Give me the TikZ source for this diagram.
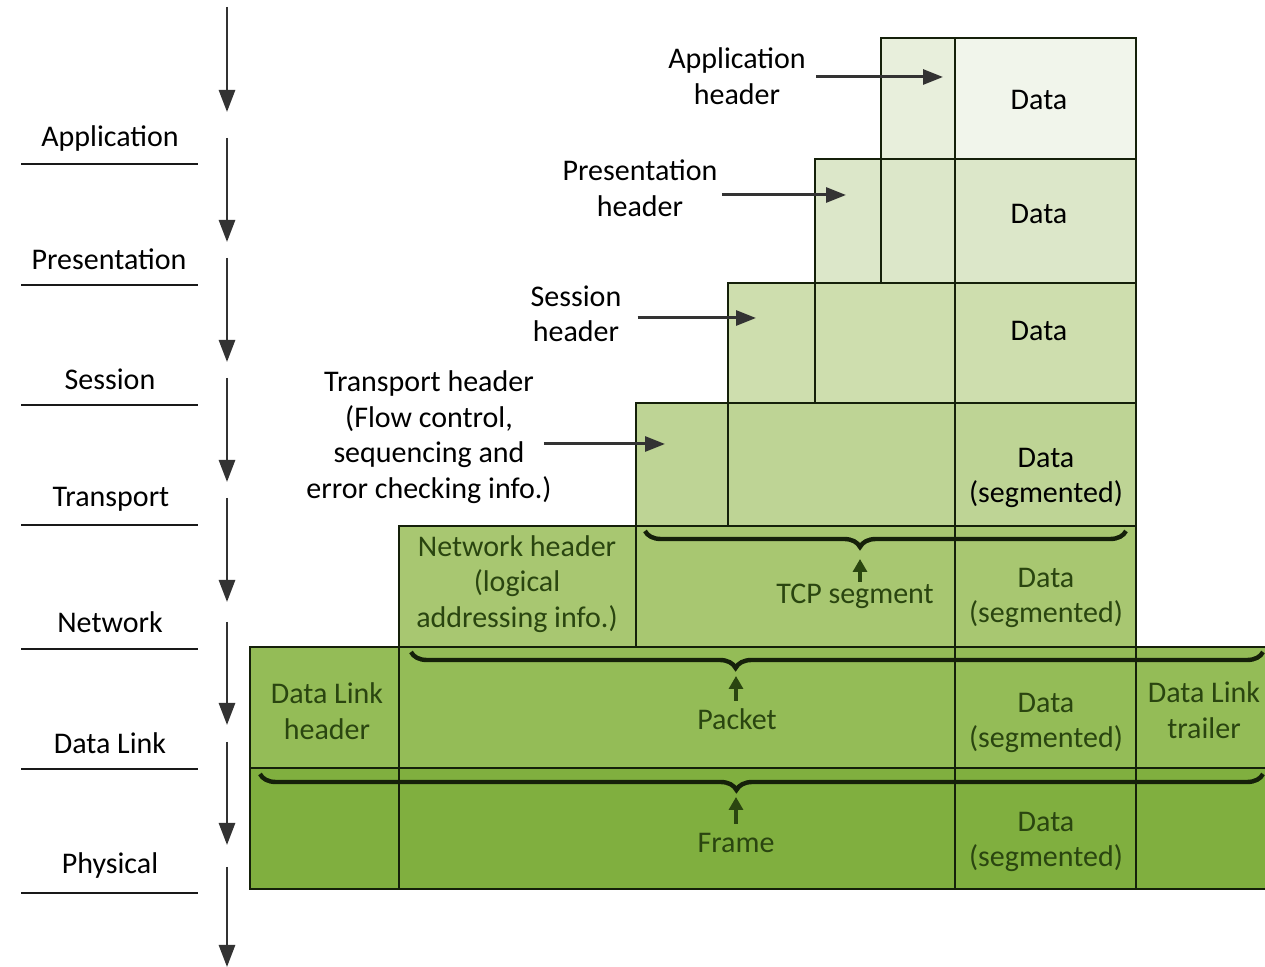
\documentclass[tikz,border=0pt]{standalone}
\usepackage{fontspec}
\setmainfont{Carlito}
\usetikzlibrary{arrows.meta,decorations.pathreplacing}
\definecolor{appH}{HTML}{E8EFDC}
\definecolor{appD}{HTML}{F1F5EB}
\definecolor{presC}{HTML}{DCE7C9}
\definecolor{sessC}{HTML}{CEDEAE}
\definecolor{transC}{HTML}{BED495}
\definecolor{netC}{HTML}{A8C771}
\definecolor{dlC}{HTML}{94BC57}
\definecolor{physC}{HTML}{80AF3F}
\definecolor{txtgreen}{HTML}{2A4510}
\definecolor{edge}{HTML}{15200A}
\definecolor{arrowgray}{HTML}{333333}
\newcommand{\mkcell}[6]{\node[cellbox, fill=#6, minimum width={(#4-#2)*0.5pt}, minimum height={(#5-#3)*0.5pt}, anchor=north west] (#1) at (#2,#3) {};}
\begin{document}
\begin{tikzpicture}[x=0.5pt,y=-0.5pt,
  font=\fontsize{15}{17.75}\selectfont,
  cellbox/.style={draw=edge, line width=1.4pt, inner sep=0pt, outer sep=0pt},
  lbl/.style={align=center, inner sep=0pt},
  grntxt/.style={lbl, text=txtgreen},
  layerline/.style={line width=1.4pt, draw=black!90},
  downarrow/.style={line width=1.4pt, draw=arrowgray, -{Triangle[length=11pt,width=8pt]}},
  harrow/.style={line width=1.5pt, draw=arrowgray, -{Triangle[length=10pt,width=7.5pt]}},
  uparrow/.style={line width=1.6pt, draw=txtgreen, -{Triangle[length=6.5pt,width=7pt]}},
  bracestyle/.style={draw=edge, line width=2.2pt, decorate, decoration={brace, mirror, amplitude=8pt, aspect=#1}}]
\useasboundingbox (0,0) rectangle (1265,967);
\clip (0,0) rectangle (1265,967);
\fill[white] (0,0) rectangle (1265,967);

% ---- left column: layers ----
\foreach \nm/\yy in {a1/7,a2/138,a3/258,a4/378,a5/498,a6/622,a7/742,a8/867}{
  \coordinate (\nm s) at (227,\yy);}
\foreach \nm/\yy in {a1/112,a2/242,a3/362,a4/482,a5/602,a6/725,a7/845,a8/967}{
  \coordinate (\nm e) at (227,\yy);}
\foreach \nm in {a1,a2,a3,a4,a5,a6,a7,a8}{\draw[downarrow] (\nm s) -- (\nm e);}

\node[lbl] (lApp) at (110,139) {Application};
\node[lbl] (lPres) at (109,259) {Presentation};
\node[lbl] (lSess) at (110,379) {Session};
\node[lbl] (lTrans) at (111,499) {Transport};
\node[lbl] (lNet) at (110,622) {Network};
\node[lbl] (lDL) at (110,743) {Data Link};
\node[lbl] (lPhys) at (110,866) {Physical};
\foreach \yy in {164,285,405,525,649,769,893}{\draw[layerline] (21,\yy) -- (198,\yy);}

% ---- stacked rows ----
\mkcell{appHc}{881}{38}{955}{159}{appH}
\mkcell{appDc}{955}{38}{1136}{159}{appD}

\mkcell{presHc}{815}{159}{881}{283}{presC}
\mkcell{presAc}{881}{159}{955}{283}{presC}
\mkcell{presDc}{955}{159}{1136}{283}{presC}

\mkcell{sessHc}{728}{283}{815}{403}{sessC}
\mkcell{sessPc}{815}{283}{955}{403}{sessC}
\mkcell{sessDc}{955}{283}{1136}{403}{sessC}

\mkcell{trHc}{636}{403}{728}{526}{transC}
\mkcell{trSc}{728}{403}{955}{526}{transC}
\mkcell{trDc}{955}{403}{1136}{526}{transC}

\mkcell{netHc}{399}{526}{636}{647}{netC}
\mkcell{netTc}{636}{526}{955}{647}{netC}
\mkcell{netDc}{955}{526}{1136}{647}{netC}

\mkcell{dlHc}{250}{647}{399}{768}{dlC}
\mkcell{dlPc}{399}{647}{955}{768}{dlC}
\mkcell{dlDc}{955}{647}{1136}{768}{dlC}
\mkcell{dlTc}{1136}{647}{1280}{768}{dlC}

\mkcell{phHc}{250}{768}{399}{889}{physC}
\mkcell{phPc}{399}{768}{955}{889}{physC}
\mkcell{phDc}{955}{768}{1136}{889}{physC}
\mkcell{phTc}{1136}{768}{1280}{889}{physC}

% ---- braces ----
\coordinate (tcpL) at (645,531);
\coordinate (tcpR) at (1126,531);
\draw[bracestyle=0.447] (tcpL) -- (tcpR);
\coordinate (pkL) at (411,652);
\coordinate (pkR) at (1263,652);
\draw[bracestyle=0.381] (pkL) -- (pkR);
\coordinate (frL) at (260,774);
\coordinate (frR) at (1263,774);
\draw[bracestyle=0.475] (frL) -- (frR);

% ---- header labels ----
\node[lbl] (apph) at (737,76) {Application\\header};
\node[lbl] (preh) at (640,188) {Presentation\\header};
\node[lbl] (sesh) at (576,314) {Session\\header};
\node[lbl] (trh) at (429,437) {Transport header\\(Flow control,\\sequencing and\\error checking info.)};

\coordinate (appT) at (943,77);
\coordinate (preT) at (846,195);
\coordinate (sesT) at (756,318);
\coordinate (trT) at (665,444);
\draw[harrow] ([xshift=5pt]apph.east |- appT) -- (appT);
\draw[harrow] ([xshift=2pt]preh.east |- preT) -- (preT);
\draw[harrow] ([xshift=8pt]sesh.east |- sesT) -- (sesT);
\draw[harrow] ([xshift=-4pt]trh.east |- trT) -- (trT);

% ---- data texts ----
\node[lbl] (dApp) at (1039,100) {Data};
\node[lbl] (dPres) at (1039,214) {Data};
\node[lbl] (dSess) at (1039,331) {Data};
\node[lbl] (dTr) at (1046,478) {Data\\(segmented)};
\node[grntxt] (dNet) at (1046,598) {Data\\(segmented)};
\node[grntxt] (dDL) at (1046,723) {Data\\(segmented)};
\node[grntxt] (dPh) at (1046,842) {Data\\(segmented)};

\node[grntxt] (neth) at (517,584) {Network header\\(logical\\addressing info.)};
\node[grntxt] (dlh) at (327,711) {Data Link\\header};
\node[grntxt] (dlt) at (1204,710) {Data Link\\trailer};

\node[grntxt] (tcp) at (855,596) {TCP segment};
\node[grntxt] (packet) at (737,719) {Packet};
\node[grntxt] (frame) at (736,843) {Frame};

\coordinate (tcpTip) at (860,559);
\coordinate (tcpTail) at (860,582);
\coordinate (pkTip) at (736,676);
\coordinate (pkTail) at (736,701);
\coordinate (frTip) at (736,797);
\coordinate (frTail) at (736,824);
\draw[uparrow] (tcpTail) -- (tcpTip);
\draw[uparrow] (pkTail) -- (pkTip);
\draw[uparrow] (frTail) -- (frTip);
\end{tikzpicture}
\end{document}
